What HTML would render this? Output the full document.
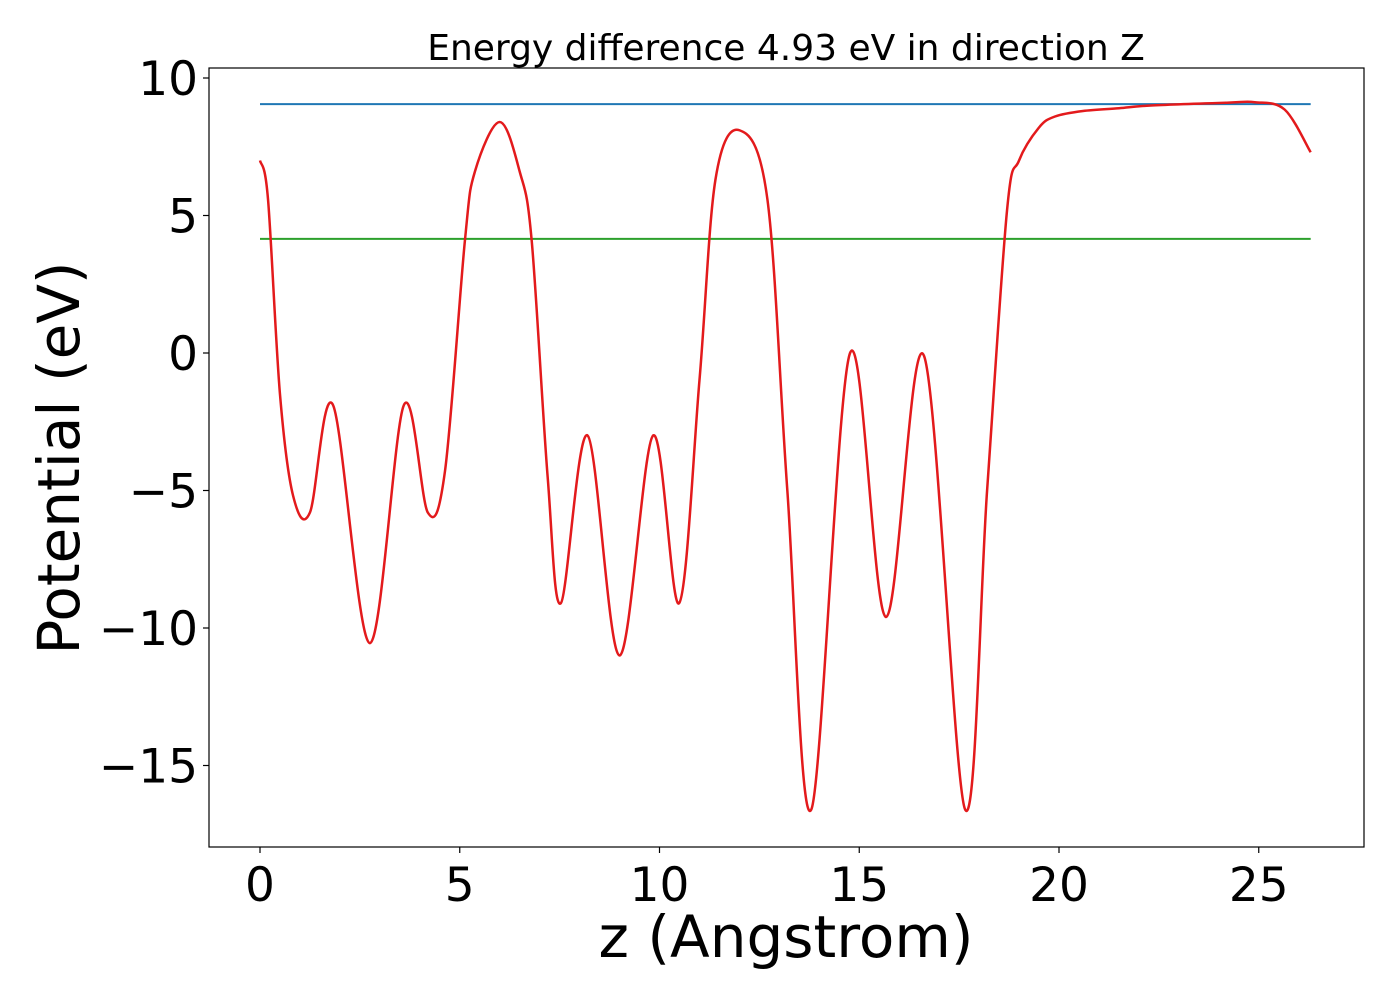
<!DOCTYPE html>
<html><head><meta charset="utf-8"><style>
body{margin:0;background:#fff}
svg text{font-family:"DejaVu Sans","Liberation Sans",sans-serif;fill:#000}
</style></head><body>
<svg id="chart" width="1400" height="1000" xmlns="http://www.w3.org/2000/svg">
<rect width="1400" height="1000" fill="#fff"/>
<g id="plot"></g>
</svg>
<script>
const zVals=[0,0.2,0.5,0.83,1.25,1.83,2.75,3.6,4.2,4.63,5.13,5.38,6.0,6.5,6.8,7.2,7.53,8.2,9.0,9.84,10.49,11.0,11.4,12.0,12.7,13.2,13.8,14.77,15.67,16.62,17.65,18.2,18.7,19.0,19.5,19.9,20.6,21.5,22.3,24.2,24.9,25.65,26.3];
const vVals=[7.0,5.6,-1.5,-5.2,-5.8,-1.9,-10.55,-1.9,-5.8,-4.3,4.1,6.6,8.4,6.6,4.1,-4.5,-9.1,-3.0,-11.0,-3.0,-9.1,-1.0,6.3,8.1,5.6,-5,-16.6,0.0,-9.6,-0.1,-16.6,-5,5.2,7.0,8.2,8.6,8.8,8.9,9.0,9.1,9.12,8.85,7.3];
const hLines=[9.05,4.15];
const hColors=["#1f77b4","#2ca02c"];
const xTicks=[0,5,10,15,20,25];
const yTicks=[10,5,0,-5,-10,-15];
const L=209,R=1364,T=68,B=847;
const sx=z=>260+z*39.95, sy=v=>353-v*27.5;
const NS="http://www.w3.org/2000/svg";
const g=document.getElementById('plot');
function mk(t,a,txt){const e=document.createElementNS(NS,t);for(const k in a)e.setAttribute(k,a[k]);if(txt!==undefined)e.textContent=txt;g.appendChild(e);return e;}
hLines.forEach((v,i)=>{const e=mk('line',{x1:sx(0),x2:sx(26.3),y1:sy(v),y2:sy(v),stroke:hColors[i],'stroke-width':2});

});
const P=zVals.map((z,i)=>[sx(z),sy(vVals[i])]);
let d='M'+P[0][0]+','+P[0][1];
for(let i=0;i<P.length-1;i++){const p0=P[Math.max(0,i-1)],p1=P[i],p2=P[i+1],p3=P[Math.min(P.length-1,i+2)];
d+=' C'+(p1[0]+(p2[0]-p0[0])/6)+','+(p1[1]+(p2[1]-p0[1])/6)+' '+(p2[0]-(p3[0]-p1[0])/6)+','+(p2[1]-(p3[1]-p1[1])/6)+' '+p2[0]+','+p2[1];}
const c=mk('path',{d:d,fill:'none',stroke:'#e31a1c','stroke-width':2.5});


const fr=mk('rect',{x:L,y:T,width:R-L,height:B-T,fill:'none',stroke:'#000','stroke-width':1.2});


xTicks.forEach(t=>{mk('line',{x1:sx(t),x2:sx(t),y1:B,y2:B+6,stroke:'#000','stroke-width':1.2});
const e=mk('text',{x:sx(t),y:B+54,'text-anchor':'middle','font-size':47},String(t));

});
yTicks.forEach(t=>{mk('line',{x1:L-6,x2:L,y1:sy(t),y2:sy(t),stroke:'#000','stroke-width':1.2});
const e=mk('text',{x:L-11,y:sy(t)+17,'text-anchor':'end','font-size':47},(t<0?'\u2212':'')+Math.abs(t));

});
let e=mk('text',{x:786,y:957,'text-anchor':'middle','font-size':58},'z (Angstrom)');


e=mk('text',{x:0,y:0,'text-anchor':'middle','font-size':58,transform:'translate(79,458) rotate(-90)'},'Potential (eV)');


e=mk('text',{x:786,y:60,'text-anchor':'middle','font-size':36},'Energy difference 4.93 eV in direction Z');


</script>
</body></html>
